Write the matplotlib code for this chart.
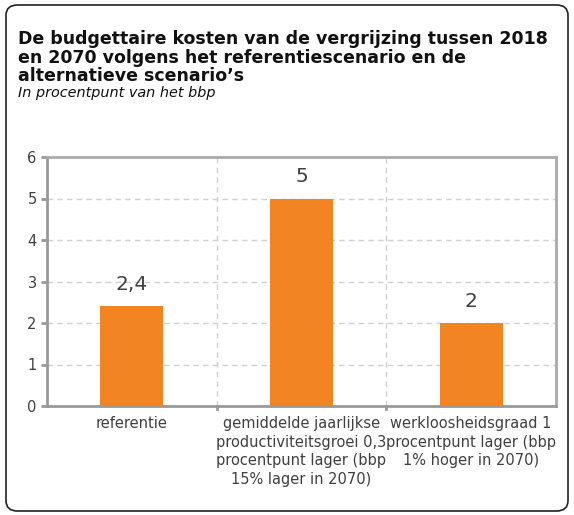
import numpy as np
import matplotlib.pyplot as plt
from matplotlib.patches import FancyBboxPatch

# data
categories = [
    "referentie",
    "gemiddelde jaarlijkse\nproductiviteitsgroei 0,3\nprocentpunt lager (bbp\n15% lager in 2070)",
    "werkloosheidsgraad 1\nprocentpunt lager (bbp\n1% hoger in 2070)",
]
values = [2.4, 5, 2]
value_labels = ["2,4", "5", "2"]
yticks = [0, 1, 2, 3, 4, 5, 6]

orange = "#F28522"
grey = "#999999"
text_col = "#404040"

fig = plt.figure(figsize=(5.74, 5.15), dpi=100)

# rounded outer frame
box = FancyBboxPatch((6 / 574, 4 / 515), 562 / 574, 506 / 515,
                     boxstyle="round,pad=0,rounding_size=0.02",
                     transform=fig.transFigure, facecolor="none",
                     edgecolor="#222222", linewidth=1.2, zorder=-1)
fig.patches.append(box)

fig.text(18 / 574, 1 - 30 / 515,
         "De budgettaire kosten van de vergrijzing tussen 2018\n"
         "en 2070 volgens het referentiescenario en de\n"
         "alternatieve scenario’s",
         fontsize=12.5, fontweight="bold", color="#111111",
         va="top", ha="left", linespacing=1.05)
fig.text(18 / 574, 1 - 86 / 515, "In procentpunt van het bbp",
         fontsize=10.4, style="italic", color="#111111", va="top", ha="left")

ax = fig.add_axes([47 / 574, 1 - 406 / 515, (556 - 47) / 574, (406 - 157) / 515])
x = np.arange(len(categories))
ax.bar(x, values, width=0.37, color=orange, zorder=3)

for xi, v, lab in zip(x, values, value_labels):
    ax.text(xi, v + 0.3, lab, ha="center", va="bottom", fontsize=14.5, color=text_col)

ax.set_xlim(-0.5, 2.5)
ax.set_ylim(0, 6)
ax.set_yticks(yticks)
ax.set_xticks(x)
ax.set_xticklabels(categories, fontsize=10.5, color=text_col, linespacing=1.32)
ax.tick_params(axis="y", labelsize=10.5, colors=text_col, length=4, width=2, color=grey)
ax.tick_params(axis="x", length=0, pad=7)
for yv in yticks[1:6]:
    ax.axhline(yv, color="#d0d0d0", linestyle=(0, (4, 3)), linewidth=1, zorder=1)
for xv in [0.5, 1.5]:
    ax.axvline(xv, color="#d0d0d0", linestyle=(0, (4, 3)), linewidth=1, zorder=1)
    ax.plot([xv, xv], [0, -0.08], color=grey, lw=2, clip_on=False, zorder=4)

for s in ax.spines.values():
    s.set_color(grey)
    s.set_linewidth(2)
ax.spines["top"].set_color("#aaaaaa")
ax.spines["right"].set_color("#aaaaaa")

fig.savefig("out.png", dpi=100)
